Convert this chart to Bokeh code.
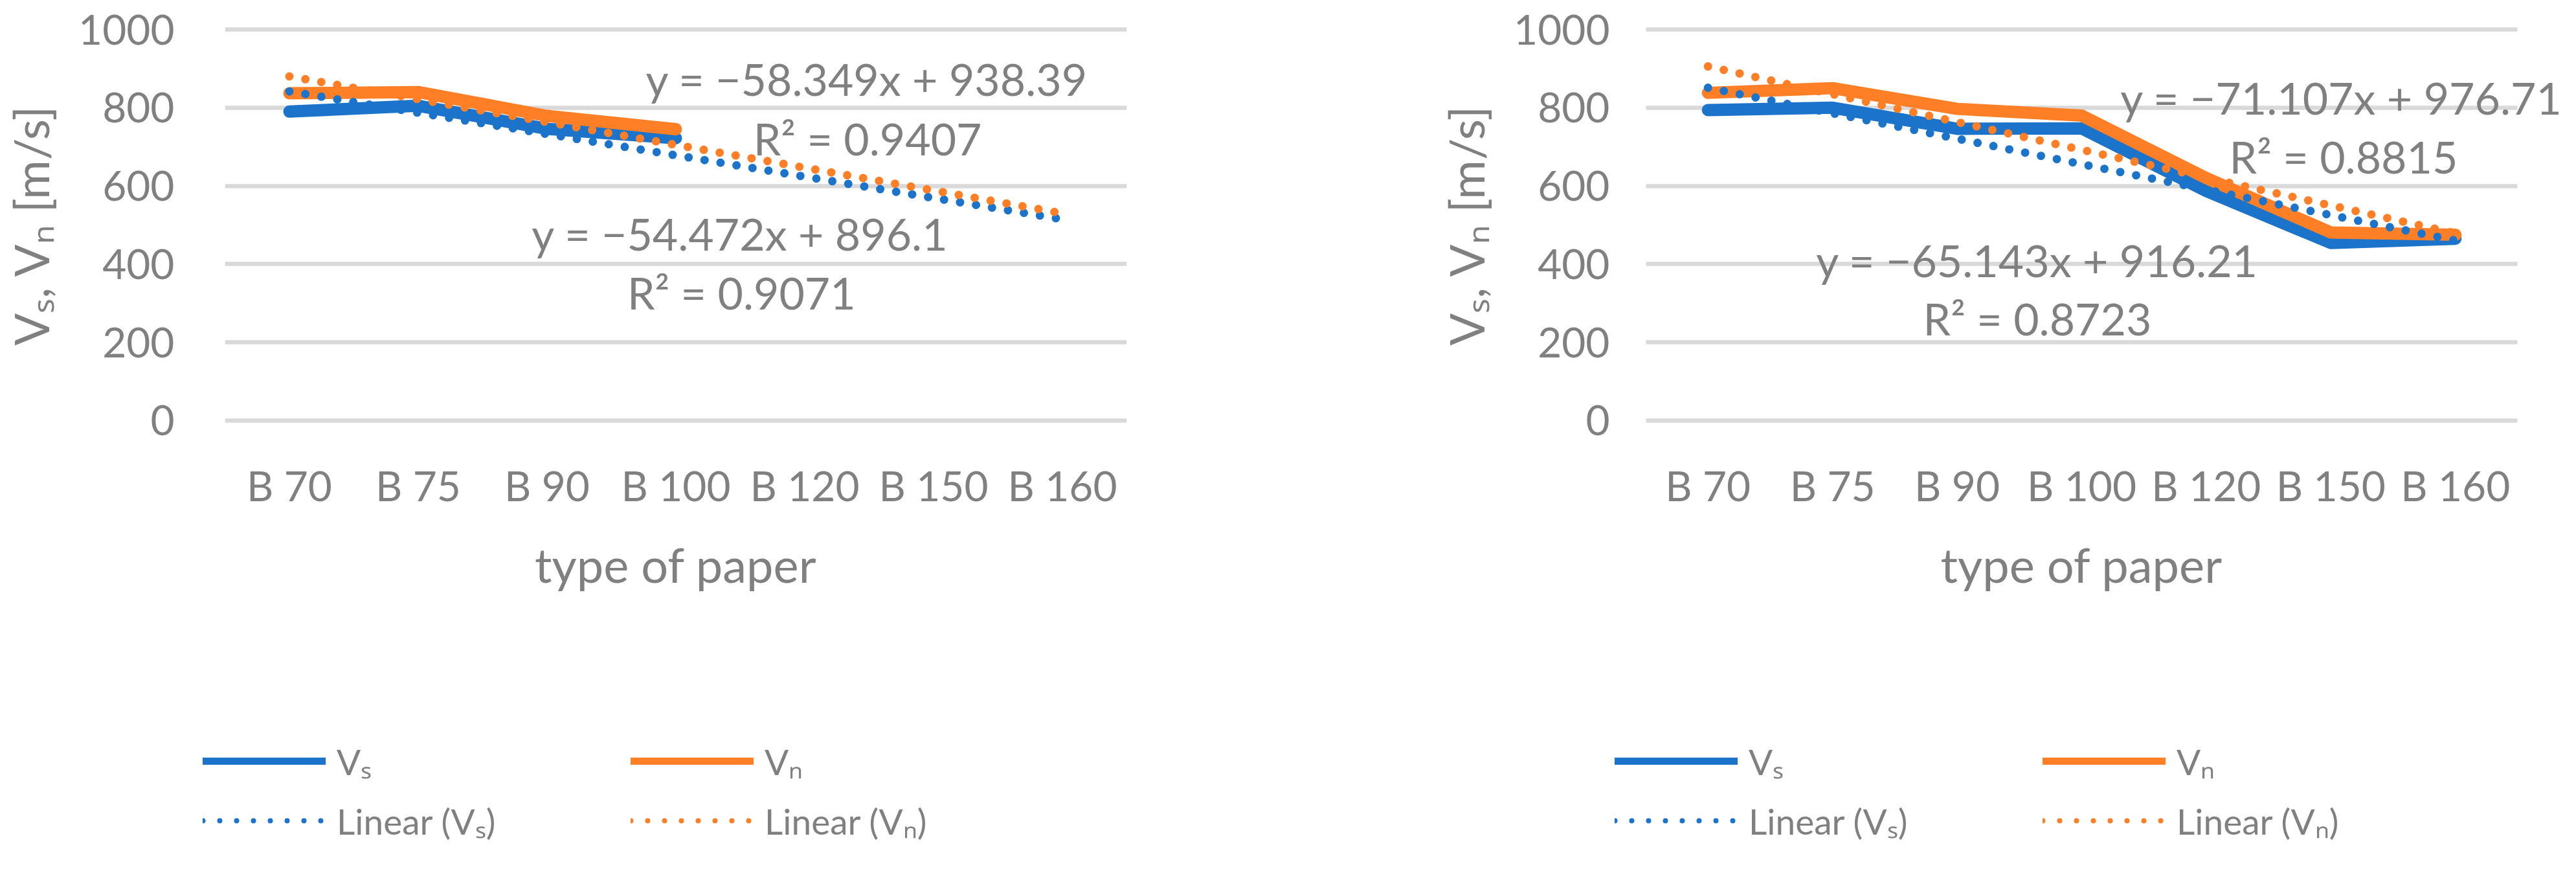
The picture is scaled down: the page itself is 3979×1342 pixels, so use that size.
from bokeh.plotting import figure
from bokeh.models import Range1d, FixedTicker, Label, Legend, LegendItem
from bokeh.layouts import row, column
from bokeh.embed import file_html
from bokeh.resources import INLINE

# ---------------- data ----------------
categories = ["B 70", "B 75", "B 90", "B 100", "B 120", "B 150", "B 160"]
y_ticks = [0, 200, 400, 600, 800, 1000]

# left chart (measured only for the first four paper types)
left_vs = [790, 805, 746, 722]
left_vn = [837, 840, 779, 745]
left_vs_fit = (-54.472, 896.1)     # slope, intercept
left_vn_fit = (-58.349, 938.39)
left_vs_r2 = "0.9071"
left_vn_r2 = "0.9407"

# right chart
right_vs = [794, 800, 746, 747, 587, 454, 465]
right_vn = [838, 850, 797, 780, 620, 481, 475]
right_vs_fit = (-65.143, 916.21)
right_vn_fit = (-71.107, 976.71)
right_vs_r2 = "0.8723"
right_vn_r2 = "0.8815"

# ---------------- style ----------------
FONT = "Lato"
GRAY = "#808080"
GRID = "#D9D9D9"
BLUE = "#1B74C9"
ORANGE = "#FF7F27"
HP = 1092   # chart part height
HL = 234    # legend part height

NCAT = len(categories)
cat_pos = [i + 0.5 for i in range(NCAT)]          # category centres on the axis
cat_labels = {pos: c for pos, c in zip(cat_pos, categories)}


def eq_text(fit):
    a, b = fit
    sign = "\u2212" if a < 0 else ""
    return f"y = {sign}{abs(a)}x + {b}"


def no_align(fig):
    if "frame_align" in fig.properties():
        fig.frame_align = False


def make_chart(vs, vn, vs_fit, vn_fit, vs_r2, vn_r2, geom):
    e = geom["xextra"]
    p = figure(x_range=Range1d(-e, NCAT + e), y_range=Range1d(-10, 1010),
               width=geom["w"], height=HP, title=None,
               output_backend="svg", toolbar_location=None,
               min_border_left=geom["bl"], min_border_right=geom["br"],
               min_border_top=39, min_border_bottom=HP - 39 - 616)
    no_align(p)
    p.outline_line_color = None
    p.background_fill_color = "white"
    p.border_fill_color = "white"

    p.xgrid.grid_line_color = None
    p.ygrid.grid_line_color = GRID
    p.ygrid.grid_line_width = 6.5
    yg = p.ygrid[0]
    if "cross_bounds" in yg.properties():
        yg.cross_bounds = (0, NCAT)
    p.yaxis.ticker = FixedTicker(ticks=y_ticks)
    p.xaxis.ticker = FixedTicker(ticks=cat_pos)
    p.xaxis.major_label_overrides = cat_labels
    p.xaxis.bounds = (0, NCAT)

    for ax in (p.xaxis[0], p.yaxis[0]):
        ax.axis_line_color = None
        ax.major_tick_line_color = None
        ax.minor_tick_line_color = None
        ax.major_tick_out = 0
        ax.major_tick_in = 0
        ax.minor_tick_out = 0
        ax.major_label_text_font = FONT
        ax.major_label_text_font_size = "64px"
        ax.major_label_text_color = GRAY
        ax.axis_label_text_font = FONT
        ax.axis_label_text_font_size = "74px"
        ax.axis_label_text_font_style = "normal"
        ax.axis_label_text_color = GRAY

    p.yaxis.major_label_standoff = geom["ystand"]
    p.yaxis.axis_label = "V\u209b, V\u2099 [m/s]"
    p.yaxis.axis_label_standoff = 26
    p.xaxis.major_label_standoff = 55
    p.xaxis.axis_label = "type of paper"
    p.xaxis.axis_label_standoff = 36

    n = len(vs)
    p.line(cat_pos[:n], vs, line_color=BLUE, line_width=19,
           line_cap="round", line_join="round")
    p.line(cat_pos[:n], vn, line_color=ORANGE, line_width=19,
           line_cap="round", line_join="round")

    xs_num = list(range(1, NCAT + 1))
    vs_tr = [vs_fit[0] * x + vs_fit[1] for x in xs_num]
    vn_tr = [vn_fit[0] * x + vn_fit[1] for x in xs_num]
    p.line(cat_pos, vs_tr, line_color=BLUE, line_width=13,
           line_cap="round", line_dash="0 25")
    p.line(cat_pos, vn_tr, line_color=ORANGE, line_width=13,
           line_cap="round", line_dash="0 25")

    texts = [eq_text(vn_fit), "R\u00b2 = " + vn_r2, eq_text(vs_fit), "R\u00b2 = " + vs_r2]
    for t, (x, y) in zip(texts, geom["labels"]):
        p.add_layout(Label(x=x, y=y, text=t, text_font=FONT, text_font_size="68px",
                           text_color=GRAY, text_align="center",
                           text_baseline="alphabetic"))

    # legend strip below the chart (series drawn out of view, only their legend shows)
    q = figure(x_range=Range1d(0, 1), y_range=Range1d(0, 1), width=geom["w"], height=HL,
               title=None, output_backend="svg", toolbar_location=None,
               x_axis_location=None, y_axis_location=None,
               min_border_left=0, min_border_right=0, min_border_top=0, min_border_bottom=0)
    no_align(q)
    q.grid.visible = False
    q.outline_line_color = None
    l1 = q.line(cat_pos[:n], vs, line_color=BLUE, line_width=11, line_cap="round")
    l2 = q.line(cat_pos[:n], vn, line_color=ORANGE, line_width=11, line_cap="round")
    l3 = q.line(cat_pos, vs_tr, line_color=BLUE, line_width=8, line_cap="round",
                line_dash="0 26")
    l4 = q.line(cat_pos, vn_tr, line_color=ORANGE, line_width=8, line_cap="round",
                line_dash="0 26")
    legend = Legend(items=[LegendItem(label="V\u209b", renderers=[l1]),
                           LegendItem(label="V\u2099", renderers=[l2]),
                           LegendItem(label="Linear (V\u209b)", renderers=[l3]),
                           LegendItem(label="Linear (V\u2099)", renderers=[l4])],
                    location=(geom["lx"], 19), orientation="horizontal", ncols=2,
                    glyph_width=190, glyph_height=80, label_height=80, label_width=442,
                    label_standoff=17, spacing=12, padding=0, margin=0,
                    border_line_color=None, background_fill_alpha=0,
                    label_text_font=FONT, label_text_font_size="55px",
                    label_text_color=GRAY)
    q.add_layout(legend)
    return column(p, q)


left_geom = dict(w=1992, bl=331, br=252, xextra=0, ystand=78, lx=313,
                 labels=[(4.983, 874), (4.988, 722), (3.999, 479), (4.009, 327)])
right_geom = dict(w=1971, bl=486, br=11, xextra=0.33, ystand=-8, lx=502,
                  labels=[(5.586, 826), (5.602, 676), (3.144, 411), (3.144, 262)])

c_left = make_chart(left_vs, left_vn, left_vs_fit, left_vn_fit, left_vs_r2, left_vn_r2, left_geom)
c_right = make_chart(right_vs, right_vn, right_vs_fit, right_vn_fit, right_vs_r2, right_vn_r2, right_geom)

layout = row(c_left, c_right)
open("out.html", "w").write(file_html(layout, INLINE))
